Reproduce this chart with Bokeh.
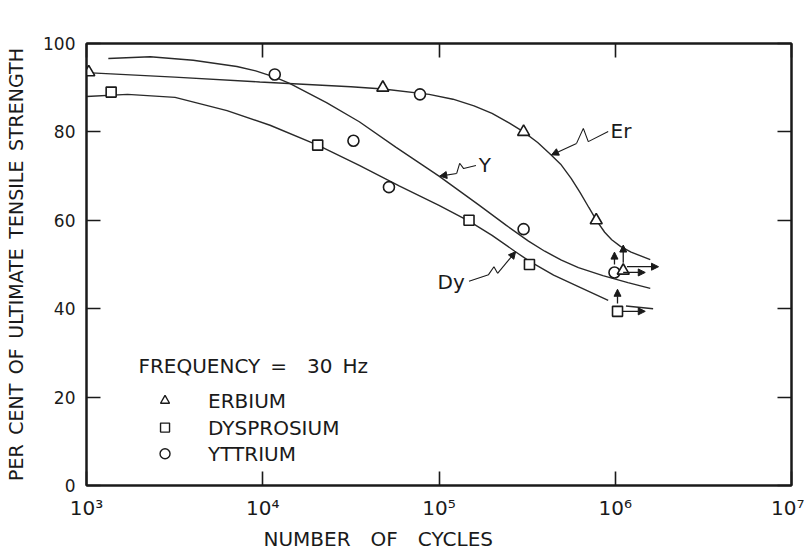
from bokeh.plotting import figure
from bokeh.models import (FixedTicker, LogAxis, LinearAxis, Arrow, NormalHead, Title)
from bokeh.core.properties import value
from bokeh.embed import file_html
from bokeh.resources import INLINE

# ---- measured points (cycles, per cent of UTS) ----
er_cycles = [1.03e3, 4.8e4, 3.02e5, 7.8e5]
er_pct = [93.5, 90.0, 80.0, 60.0]
dy_cycles = [1.38e3, 2.05e4, 1.48e5, 3.26e5]
dy_pct = [89.0, 77.0, 60.0, 50.0]
y_cycles = [1.17e4, 3.27e4, 5.2e4, 7.8e4, 3.02e5]
y_pct = [93.0, 78.0, 67.5, 88.5, 58.0]

# run-outs (specimens that did not fail)
er_runout = (1.11e6, 48.6)
dy_runout = (1.03e6, 39.4)
y_runout = (0.99e6, 48.2)

# ---- fitted S-N curves ----
er_curve_x = [1.0e3, 3.16e3, 9.62e3, 3.16e4, 4.83e4, 8.79e4, 1.20e5, 1.58e5,
              2.0e5, 2.51e5, 3.02e5, 3.63e5, 4.30e5, 4.90e5, 5.62e5, 6.31e5,
              7.08e5, 7.82e5, 8.71e5, 9.55e5, 1.07e6, 1.23e6, 1.58e6]
er_curve_y = [93.4, 92.4, 91.3, 90.2, 89.7, 88.5, 87.4, 85.9,
              84.2, 82.0, 80.0, 77.6, 74.9, 72.7, 69.5, 66.3,
              62.9, 60.0, 57.3, 55.6, 54.1, 52.8, 51.1]
y_curve_x = [1.33e3, 2.30e3, 4.03e3, 7.13e3, 9.12e3, 1.17e4, 1.42e4, 2.30e4,
             3.53e4, 5.71e4, 1.0e5, 1.68e5, 2.40e5, 3.22e5, 3.98e5, 4.95e5,
             6.18e5, 8.51e5, 1.18e6, 1.58e6]
y_curve_y = [96.6, 97.0, 96.2, 94.8, 93.8, 92.4, 91.0, 86.6,
             82.3, 76.5, 70.0, 63.5, 58.9, 55.3, 53.0, 51.0,
             49.3, 47.5, 45.9, 44.6]
dy_curve_x = [1.0e3, 1.71e3, 3.18e3, 6.27e3, 1.10e4, 2.05e4, 3.53e4, 5.94e4,
              1.0e5, 1.48e5, 2.0e5, 2.69e5, 3.27e5, 4.47e5, 6.18e5, 9.12e5]
dy_curve_y = [88.0, 88.5, 87.8, 84.8, 81.5, 77.0, 72.4, 67.8,
              63.4, 59.8, 56.6, 53.0, 50.7, 47.6, 45.0, 41.9]
dy_tail_x = [1.15e6, 1.64e6]
dy_tail_y = [40.6, 40.0]

x_ticks = [1e3, 1e4, 1e5, 1e6, 1e7]
x_tick_labels = ["10³", "10⁴", "10⁵", "10⁶", "10⁷"]
y_ticks = [0, 20, 40, 60, 80, 100]

FONT = "DejaVu Sans"
INK = "#1a1a1a"
EN = "\u2002"
EM = "\u2003"

p = figure(width=804, height=552, x_axis_type="log",
           x_range=(1e3, 1e7), y_range=(0, 100),
           output_backend="svg", toolbar_location=None,
           min_border_left=86, min_border_right=13,
           min_border_top=43, min_border_bottom=67)

p.grid.visible = False
p.outline_line_color = INK
p.outline_line_width = 2
p.background_fill_color = "white"
p.border_fill_color = "white"

def style_axis(ax, show_labels=True):
    ax.axis_line_color = INK
    ax.axis_line_width = 2
    ax.major_tick_in = 14
    ax.major_tick_out = 0
    ax.major_tick_line_color = INK
    ax.major_tick_line_width = 1.6
    ax.minor_tick_line_color = None
    ax.major_label_text_font = FONT
    ax.major_label_text_color = INK
    ax.axis_label_text_font = FONT
    ax.axis_label_text_font_style = "normal"
    ax.axis_label_text_color = INK
    if not show_labels:
        ax.major_label_text_font_size = "1px"
        ax.major_label_text_color = None
        ax.major_label_standoff = 0

xa = p.xaxis[0]
style_axis(xa)
xa.ticker = FixedTicker(ticks=x_ticks)
xa.major_label_overrides = {t: lab for t, lab in zip(x_ticks, x_tick_labels)}
xa.major_label_text_font_size = "20px"
xa.major_label_standoff = 10

ya = p.yaxis[0]
style_axis(ya)
ya.ticker = FixedTicker(ticks=y_ticks)
ya.major_label_text_font_size = "17px"
ya.major_label_standoff = 11
ya.axis_label = EN.join(["PER", "CENT", "OF", "ULTIMATE", "TENSILE", "STRENGTH"])
ya.axis_label_text_font_size = "19px"
ya.axis_label_standoff = 13

top = LogAxis(ticker=FixedTicker(ticks=x_ticks))
style_axis(top, show_labels=False)
p.add_layout(top, "above")
right = LinearAxis(ticker=FixedTicker(ticks=y_ticks))
style_axis(right, show_labels=False)
p.add_layout(right, "right")

# horizontal-axis caption, set a little left of centre
p.add_layout(Title(text=EM.join(["NUMBER", "OF", "CYCLES"]), align="left", offset=177,
                   text_font=FONT, text_font_size="20px", text_font_style="normal",
                   text_color=INK, standoff=4), "below")

# curves
for cx, cy in [(er_curve_x, er_curve_y), (y_curve_x, y_curve_y),
               (dy_curve_x, dy_curve_y), (dy_tail_x, dy_tail_y)]:
    p.line(cx, cy, line_color="#2a2a2a", line_width=1.4)

# data markers
mk = dict(fill_color="white", line_color=INK, line_width=1.6)
p.scatter(er_cycles, er_pct, marker="triangle", size=12, **mk)
p.scatter(dy_cycles, dy_pct, marker="square", size=10, **mk)
p.scatter(y_cycles, y_pct, marker="circle", size=11, **mk)

# run-out markers with arrows
p.scatter([y_runout[0]], [y_runout[1]], marker="circle", size=11, **mk)
p.scatter([er_runout[0]], [er_runout[1]], marker="triangle", size=12, **mk)
p.scatter([dy_runout[0]], [dy_runout[1]], marker="square", size=10, **mk)

def arrow(x0, y0, x1, y1, lw=1.3):
    p.add_layout(Arrow(end=NormalHead(size=7, fill_color=INK, line_color=INK),
                       x_start=x0, y_start=y0, x_end=x1, y_end=y1,
                       line_color=INK, line_width=lw))

arrow(er_runout[0], er_runout[1] + 1.8, er_runout[0], er_runout[1] + 5.8)
arrow(y_runout[0], y_runout[1] + 1.8, y_runout[0], y_runout[1] + 4.6)
arrow(dy_runout[0], dy_runout[1] + 1.8, dy_runout[0], dy_runout[1] + 5.0)
arrow(er_runout[0] * 1.05, er_runout[1] + 0.9, 1.76e6, er_runout[1] + 0.9)
arrow(y_runout[0] * 1.12, y_runout[1], 1.48e6, y_runout[1])
arrow(dy_runout[0] * 1.07, dy_runout[1], 1.48e6, dy_runout[1])

# curve labels with wavy leaders
def leader(xs, ys):
    p.line(xs[:-1], ys[:-1], line_color=INK, line_width=1.1)
    arrow(xs[-2], ys[-2], xs[-1], ys[-1], lw=1.1)

leader([9.12e5, 7.03e5, 6.59e5, 6.03e5, 4.35e5],
       [80.1, 77.8, 80.8, 77.4, 74.8])
leader([1.62e5, 1.38e5, 1.31e5, 1.26e5, 1.01e5],
       [72.4, 71.7, 72.9, 70.6, 70.0])
leader([1.48e5, 1.91e5, 2.05e5, 2.15e5, 2.72e5],
       [46.2, 47.7, 49.5, 48.0, 52.9])

lab = dict(text_font=value(FONT), text_font_size="20px", text_color=INK,
           text_baseline="middle")
p.text([9.4e5], [80.3], text=["Er"], text_align="left", **lab)
p.text([1.68e5], [72.6], text=["Y"], text_align="left", **lab)
p.text([1.40e5], [46.0], text=["Dy"], text_align="right", **lab)

# key
key = dict(text_font=value(FONT), text_font_size="20px", text_color=INK,
           text_baseline="middle", text_align="left")
p.text([1.97e3], [27.1], text=["FREQUENCY" + EN + "=" + EM + "30" + EN + "Hz"], **key)
mk2 = dict(fill_color="white", line_color=INK, line_width=1.4)
p.scatter([2.79e3], [19.2], marker="triangle", size=9, **mk2)
p.scatter([2.79e3], [13.1], marker="square", size=9, **mk2)
p.scatter([2.79e3], [7.2], marker="circle", size=10, **mk2)
p.text([4.89e3] * 3, [19.2, 13.1, 7.2],
       text=["ERBIUM", "DYSPROSIUM", "YTTRIUM"], **key)

open("out.html", "w").write(file_html(p, INLINE))
